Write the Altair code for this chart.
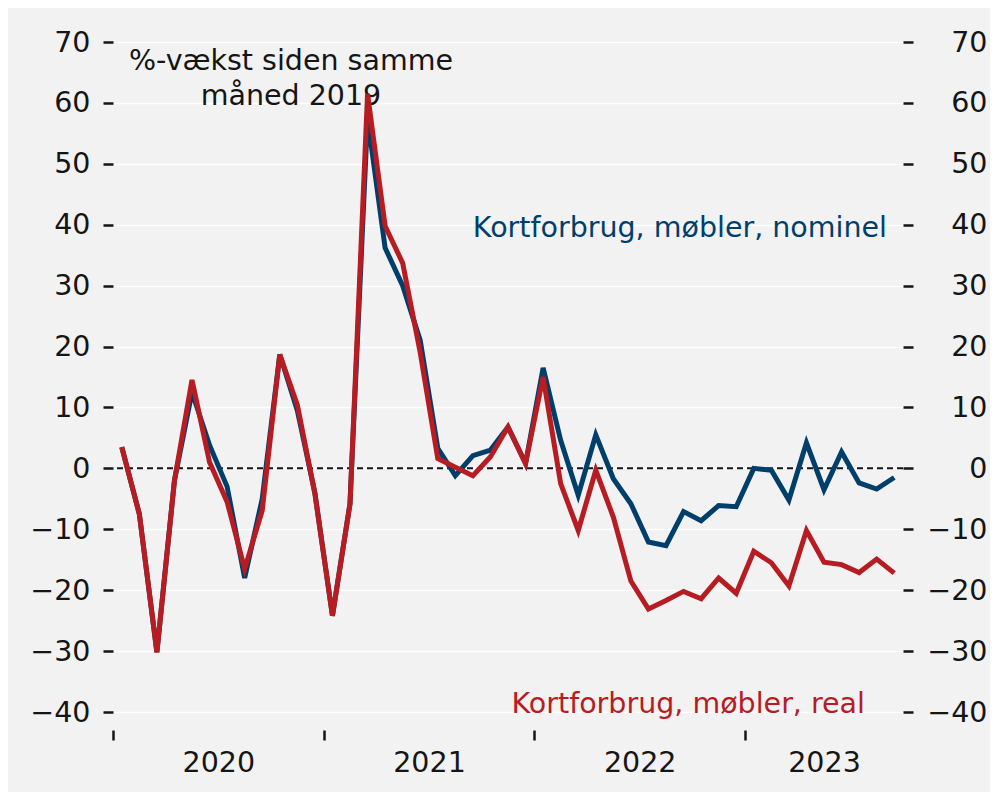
import altair as alt
import pandas as pd

# ---- data ----
months = [p.strftime("%Y-%m") for p in pd.period_range("2020-01", "2023-09", freq="M")]

nominel = [3.5, -7.5, -30.2, -2.0, 12.5, 3.8, -3.0, -18.0, -5.0, 18.7,
           9.5, -4.0, -24.2, -5.8, 57.5, 36.2, 30.0, 21.0, 3.3, -1.2,
           2.1, 3.0, 6.8, 0.8, 16.5, 4.6, -4.4, 5.5, -1.7, -5.8,
           -12.1, -12.7, -7.1, -8.6, -6.1, -6.3, 0.0, -0.3, -5.2, 4.2,
           -3.5, 2.7, -2.4, -3.4, -1.5]

real = [3.5, -7.5, -30.2, -2.0, 14.5, 1.0, -5.5, -16.5, -6.9, 18.7,
        10.4, -4.2, -24.2, -5.8, 61.5, 39.8, 33.7, 19.0, 1.6, 0.2,
        -1.2, 1.9, 6.8, 0.8, 15.0, -2.5, -10.2, -0.3, -8.0, -18.5,
        -23.1, -21.7, -20.2, -21.4, -18.0, -20.5, -13.6, -15.5, -19.3, -10.2,
        -15.4, -15.8, -17.1, -14.9, -17.2]

years = [2020, 2021, 2022, 2023]
y_ticks = [-40, -30, -20, -10, 0, 10, 20, 30, 40, 50, 60, 70]

label_nominel = "Kortforbrug, møbler, nominel"
label_real = "Kortforbrug, møbler, real"
title_lines = ["%-vækst siden samme", "måned 2019"]

# ---- derived tables ----
n = len(months)
x_end = n
pos = [i + 0.5 for i in range(n)]
df = pd.DataFrame({
    "t": pos + pos,
    "v": nominel + real,
    "s": ["nominel"] * n + ["real"] * n,
    "m": months + months,
})
zero_df = pd.DataFrame({"z": [0]})
one = pd.DataFrame({"a": [0]})

year_start = [12 * (y - years[0]) for y in years]
year_mid = [(s + min(s + 12, x_end)) / 2 for s in year_start]
x_vals = year_start + year_mid

FONT = "DejaVu Sans"
BLUE = "#003f6b"
RED = "#b71c23"
INK = "#151515"
BG = "#f2f2f2"
AXFS = 28.5

xscale = alt.Scale(domain=[0, x_end], nice=False, zero=False)
yscale = alt.Scale(domain=[-40, 70], nice=False, zero=False)

xaxis = alt.Axis(
    values=x_vals, title=None, grid=False, domain=False, offset=18,
    tickSize=10, tickWidth=2.5, tickColor=INK,
    tickOpacity={"condition": {"test": "datum.value % 12 === 0", "value": 1}, "value": 0},
    labelExpr=f"datum.value % 12 === 0 ? '' : '' + (floor(datum.value / 12) + {years[0]})",
    labelFont=FONT, labelFontSize=AXFS, labelColor=INK, labelPadding=8,
    labelOverlap=False, labelFlush=False,
)

left_axis = alt.Axis(
    values=y_ticks, orient="left", title=None, grid=True, gridColor="white",
    gridWidth=1.5, domain=False, tickSize=10, tickWidth=2.5, tickColor=INK,
    labelFont=FONT, labelFontSize=AXFS, labelColor=INK, labelPadding=13,
)
right_axis = alt.Axis(
    values=y_ticks, orient="right", title=None, grid=False, domain=False,
    tickSize=10, tickWidth=2.5, tickColor=INK, labelAlign="right",
    labelFont=FONT, labelFontSize=AXFS, labelColor=INK, labelPadding=74,
)

base = alt.Chart(df)

blue = base.transform_filter(alt.datum.s == "nominel").mark_line(
    color=BLUE, strokeWidth=5, strokeJoin="miter"
).encode(
    x=alt.X("t:Q", scale=xscale, axis=xaxis),
    y=alt.Y("v:Q", scale=yscale, axis=left_axis),
)

red = base.transform_filter(alt.datum.s == "real").mark_line(
    color=RED, strokeWidth=5, strokeJoin="miter"
).encode(
    x=alt.X("t:Q", scale=xscale, axis=xaxis),
    y=alt.Y("v:Q", scale=yscale, axis=right_axis),
)

zero_rule = alt.Chart(zero_df).mark_rule(
    color=INK, strokeWidth=2, strokeDash=[6, 4]
).encode(y=alt.Y("z:Q", scale=yscale, axis=None))

def note(text, x, y, color, align="center", size=28.5):
    return alt.Chart(one).mark_text(
        text=text, align=align, baseline="middle", font=FONT,
        fontSize=size, color=color,
    ).encode(x=alt.value(x), y=alt.value(y))

t1 = note(title_lines[0], 178, 19, INK)
t2 = note(title_lines[1], 178, 54, INK)
tb = note(label_nominel, 774, 186, BLUE, align="right")
tr = note(label_real, 752, 662, RED, align="right")

chart = alt.layer(zero_rule, t1, t2, tb, tr, blue, red).resolve_axis(
    y="independent"
).properties(
    width=790, height=670,
    autosize=alt.AutoSizeParams(type="none"),
    padding={"left": 105, "top": 34, "right": 87, "bottom": 80},
    background=BG,
).configure_view(stroke=None, fill=BG)

chart.save("out.html", embed_options={"renderer": "svg", "actions": False})
